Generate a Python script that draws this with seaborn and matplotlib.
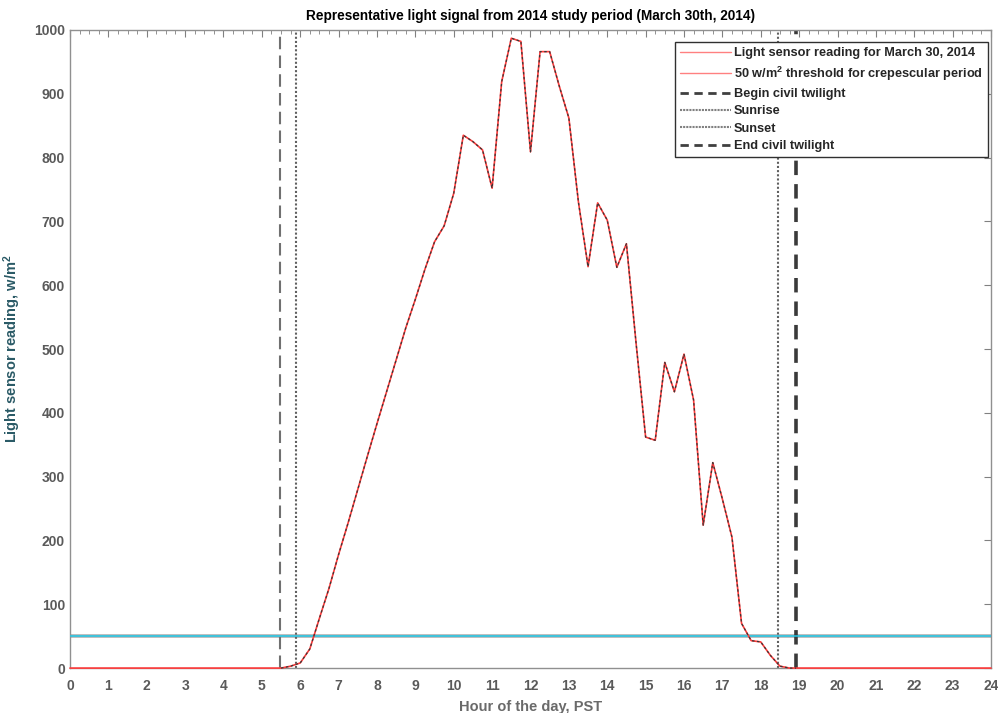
#!/usr/bin/env python3
"""
Representative light signal, March 30th 2014
"""
import numpy as np
import pandas as pd
import matplotlib
matplotlib.use('Agg')
import matplotlib.pyplot as plt
from matplotlib.lines import Line2D
from matplotlib.ticker import MultipleLocator
import seaborn as sns

# light sensor samples (quarter hours) between begin and end civil twilight
day_hours = [5.5, 5.75, 6.0, 6.25, 6.5, 6.75, 7.0, 7.25, 7.5, 7.75,
             8.0, 8.25, 8.5, 8.75, 9.0, 9.25, 9.5, 9.75, 10.0, 10.25,
             10.5, 10.75, 11.0, 11.25, 11.5, 11.75, 12.0, 12.25, 12.5, 12.75,
             13.0, 13.25, 13.5, 13.75, 14.0, 14.25, 14.5, 14.75, 15.0, 15.25,
             15.5, 15.75, 16.0, 16.25, 16.5, 16.75, 17.0, 17.25, 17.5, 17.75,
             18.0, 18.25, 18.5, 18.75, 18.92]
day_reading = [0, 3, 8, 30, 78, 125, 178, 228, 280, 332,
               383, 433, 483, 533, 578, 625, 668, 693, 744, 835,
               825, 812, 752, 919, 987, 982, 809, 966, 966, 912,
               862, 730, 629, 729, 702, 628, 665, 510, 362, 357,
               479, 433, 492, 420, 224, 322, 265, 205, 70, 43,
               41, 20, 3, 0, 0]

# night is flat at zero
night_start = [0.0]
night_end = [24.0]

threshold = 50
begin_civil = 5.47
sunrise = 5.89
sunset = 18.45
end_civil = 18.92

full = pd.DataFrame({
    'hour': night_start + day_hours + night_end,
    'reading': [0] + day_reading + [0],
})
day = pd.DataFrame({'hour': day_hours, 'reading': day_reading})

sns.set_style('white')
plt.rcParams['font.family'] = ['Liberation Sans', 'DejaVu Sans']
plt.rcParams['font.weight'] = 'bold'
plt.rcParams['mathtext.fontset'] = 'custom'
plt.rcParams['mathtext.rm'] = 'Liberation Sans'
plt.rcParams['mathtext.bf'] = 'Liberation Sans:bold'
plt.rcParams['mathtext.default'] = 'bf'

fig = plt.figure(figsize=(9.98, 7.13), dpi=100)
ax = fig.add_axes([0.0701, 0.063, 0.9229, 0.895])

# threshold line (gray halo + cyan)
ax.axhline(threshold, color='#b0b0b0', lw=2.6, zorder=2)
ax.axhline(threshold, color='#20c8e8', lw=1.1, zorder=3)

# twilight / sun lines
ax.axvline(begin_civil, color='#707070', lw=1.5, ls=(0, (6, 3)), zorder=2)
ax.axvline(sunrise, color='#606060', lw=1.5, ls=(0, (1, 1)), zorder=2)
ax.axvline(sunset, color='#606060', lw=1.5, ls=(0, (1, 1)), zorder=2)
ax.axvline(end_civil, color='#3a3a3a', lw=2.6, ls=(0, (4, 2.5)), zorder=2)

# light signal: red line with dark dashed overlay during daylight
sns.lineplot(data=full, x='hour', y='reading', color='#ff3a3a', lw=1.2,
             ax=ax, zorder=6, clip_on=False)
sns.lineplot(data=day, x='hour', y='reading', color='#383838', lw=0.9,
             ax=ax, zorder=7, linestyle=(0, (2, 2)), clip_on=False)

ax.set_xlim(0, 24)
ax.set_ylim(0, 1000)
ax.xaxis.set_major_locator(MultipleLocator(1))
ax.xaxis.set_minor_locator(MultipleLocator(0.25))
ax.yaxis.set_major_locator(MultipleLocator(100))

ax.tick_params(which='both', direction='in', top=True, right=True,
               colors='#808080', labelcolor='#5a5a5a', labelsize=10)
ax.tick_params(which='major', length=5)
ax.tick_params(which='minor', length=3)
ax.tick_params(axis='x', which='major', pad=8)
for lbl in ax.get_xticklabels() + ax.get_yticklabels():
    lbl.set_fontweight('bold')
for sp in ax.spines.values():
    sp.set_color('#909090')
    sp.set_linewidth(1.0)

ax.set_title('Representative light signal from 2014 study period (March 30th, 2014)',
             fontsize=9.8, fontweight='bold', color='black', pad=7)
ax.set_xlabel('Hour of the day, PST', fontsize=10.5, fontweight='bold',
              color='#6a6a6a', labelpad=5)
ax.set_ylabel('Light sensor reading, w/m$^2$', fontsize=10.5, fontweight='bold',
              color='#2a5a66', labelpad=8)

handles = [
    Line2D([], [], color='#ff8080', lw=1.0),
    Line2D([], [], color='#ff8080', lw=1.0),
    Line2D([], [], color='#404040', lw=2.0, ls=(0, (3, 2))),
    Line2D([], [], color='#808080', lw=1.5, ls=(0, (1, 0.5))),
    Line2D([], [], color='#808080', lw=1.5, ls=(0, (1, 0.5))),
    Line2D([], [], color='#404040', lw=2.0, ls=(0, (3, 2))),
]
labels = [
    'Light sensor reading for March 30, 2014',
    '50 w/m$^2$ threshold for crepescular period',
    'Begin civil twilight',
    'Sunrise',
    'Sunset',
    'End civil twilight',
]
leg = ax.legend(handles, labels, loc='upper right',
                bbox_to_anchor=(0.9967, 0.981), borderaxespad=0,
                handlelength=4.0, handletextpad=0.2, labelspacing=0.42,
                frameon=True, fancybox=False, framealpha=1.0,
                prop={'weight': 'bold', 'size': 9.2})
leg.get_frame().set_edgecolor('#303030')
leg.get_frame().set_linewidth(1.0)
leg.set_zorder(10)

plt.savefig('out.png', dpi=100)
plt.close()
